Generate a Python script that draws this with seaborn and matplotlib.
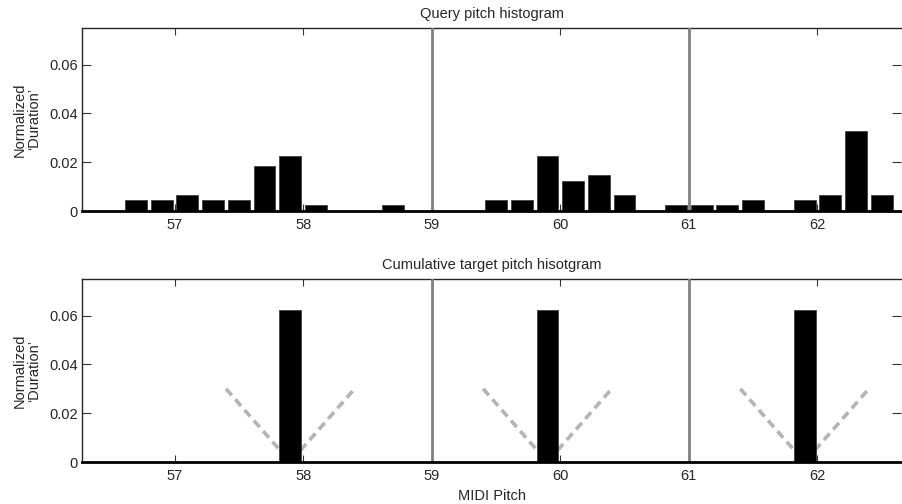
import numpy as np
import pandas as pd
import matplotlib
matplotlib.use("Agg")
import matplotlib.pyplot as plt
import seaborn as sns

# ---------------- data ----------------
query_pitch = [56.7, 56.9, 57.1, 57.3, 57.5, 57.7, 57.9, 58.1, 58.7,
               59.5, 59.7, 59.9, 60.1, 60.3, 60.5, 60.9, 61.1, 61.3,
               61.5, 61.9, 62.1, 62.3, 62.5]
query_dur = [0.0044, 0.0044, 0.0064, 0.0044, 0.0044, 0.0185, 0.0226, 0.0023, 0.0023,
             0.0044, 0.0044, 0.0226, 0.0125, 0.0146, 0.0064, 0.0023, 0.0023, 0.0023,
             0.0044, 0.0044, 0.0064, 0.0327, 0.0064]
target_pitch = [57.9, 59.9, 61.9]
target_dur = [0.0625, 0.0625, 0.0625]
window_dx = [-0.5, 0.0, 0.5]
window_y = [0.03, 0.0, 0.03]
boundaries = [59, 61]
xticks = [57, 58, 59, 60, 61, 62]
yticks = [0, 0.02, 0.04, 0.06]
ytick_labels = ["0", "0.02", "0.04", "0.06"]
titles = ["Query pitch histogram", "Cumulative target pitch hisotgram"]

# ---------------- style ----------------
sns.set_style("ticks")
plt.rcParams["font.family"] = ["Liberation Sans", "DejaVu Sans"]
plt.rcParams["font.size"] = 10.5

fig = plt.figure(figsize=(9.02, 5.04), dpi=100)
ax_top = fig.add_axes([82/902, 1 - 211/504, 819/902, 183/504])
ax_bot = fig.add_axes([82/902, 1 - 462/504, 819/902, 183/504])

qdf = pd.DataFrame({"pitch": query_pitch, "dur": query_dur})
tdf = pd.DataFrame({"pitch": target_pitch, "dur": target_dur})

rows = []
for i, t in enumerate(target_pitch):
    for dx, yy in zip(window_dx, window_y):
        rows.append({"x": t + dx, "y": yy, "g": i})
wdf = pd.DataFrame(rows)

for ax, df, title in [(ax_top, qdf, titles[0]), (ax_bot, tdf, titles[1])]:
    if ax is ax_bot:
        sns.lineplot(data=wdf, x="x", y="y", units="g", estimator=None, sort=False,
                     color="#b4b4b4", linewidth=2.6, linestyle=(0, (2.4, 1.5)),
                     ax=ax, zorder=1)
    sns.histplot(data=df, x="pitch", weights="dur", binwidth=0.2,
                 binrange=(56.6, 62.6), shrink=0.85, color="black",
                 edgecolor="#333333", linewidth=0.5, alpha=1, ax=ax, zorder=2)
    for b in boundaries:
        ax.axvline(b, color="#808080", lw=2.0, zorder=3)
    ax.set_xlim(56.28, 62.65)
    ax.set_ylim(0, 0.075)
    ax.set_xticks(xticks)
    ax.set_xticklabels([str(x) for x in xticks])
    ax.set_yticks(yticks)
    ax.set_yticklabels(ytick_labels)
    ax.tick_params(axis="both", direction="in", top=True, right=True,
                   length=5, width=0.8, color="#333333", labelsize=10.5)
    ax.tick_params(axis="y", length=6.5)
    ax.tick_params(axis="x", pad=5)
    ax.tick_params(axis="y", pad=3)
    ax.spines["right"].set_visible(False)
    ax.spines["bottom"].set_linewidth(2.0)
    ax.spines["bottom"].set_color("black")
    ax.spines["bottom"].set_zorder(4)
    ax.spines["top"].set_linewidth(1.0)
    ax.spines["left"].set_linewidth(1.0)
    ax.set_title(title, fontsize=10.5, pad=7)
    ax.set_ylabel("Normalized\n\u2018Duration\u2019", fontsize=10.5, linespacing=1.0)
    ax.yaxis.set_label_coords(-0.05, 0.5)
    ax.set_xlabel("")

ax_bot.set_xlabel("MIDI Pitch", fontsize=10.5, labelpad=4)

fig.savefig("out.png", dpi=100)
